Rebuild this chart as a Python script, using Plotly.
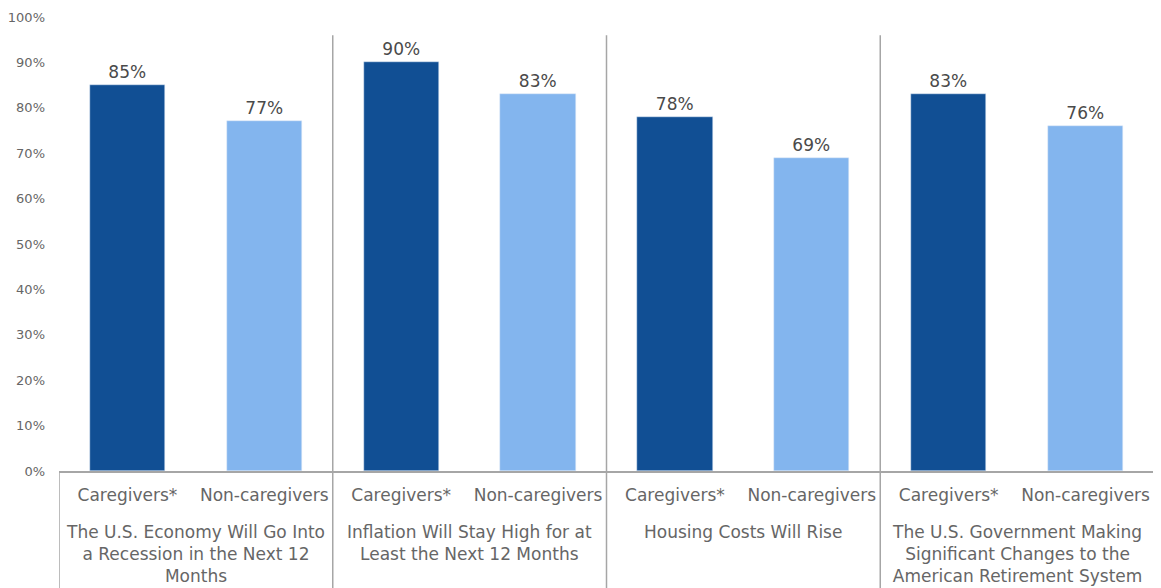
import plotly.graph_objects as go

groups = [
    "The U.S. Economy Will Go Into<br>a Recession in the Next 12<br>Months",
    "Inflation Will Stay High for at<br>Least the Next 12 Months",
    "Housing Costs Will Rise",
    "The U.S. Government Making<br>Significant Changes to the<br>American Retirement System",
]
series_names = ["Caregivers*", "Non-caregivers"]
caregivers = [85, 90, 78, 83]
non_caregivers = [77, 83, 69, 76]
y_ticks = [0, 10, 20, 30, 40, 50, 60, 70, 80, 90, 100]

colors = ["#114F94", "#83B5EE"]
FONT = "DejaVu Sans"
GRAY = "#666666"
LINE = "#A6A6A6"

n = len(groups)
x_care = [2 * i + 0.5 for i in range(n)]
x_non = [2 * i + 1.5 for i in range(n)]

fig = go.Figure()
for xs, vals, name, c in [(x_care, caregivers, series_names[0], colors[0]),
                          (x_non, non_caregivers, series_names[1], colors[1])]:
    fig.add_trace(go.Bar(
        x=xs, y=vals, name=name, width=0.55, marker_color=c,
        text=[f"{v}%" for v in vals], textposition="outside",
        textfont=dict(family=FONT, size=17, color="#4a4a4a"),
        cliponaxis=False,
    ))

tickvals = []
ticktext = []
for i in range(n):
    tickvals += [x_care[i], x_non[i]]
    ticktext += series_names

# the page body has an 8px default margin, so margins are offset by 8px
fig.update_layout(
    width=1161, height=588,
    margin=dict(l=51, r=15, t=9, b=125),
    plot_bgcolor="white", paper_bgcolor="white",
    showlegend=False, bargap=0,
    font=dict(family=FONT, color=GRAY),
    xaxis=dict(range=[0, 2 * n], tickvals=tickvals, ticktext=ticktext,
               tickfont=dict(family=FONT, size=17, color=GRAY),
               showgrid=False, zeroline=False, showline=True, linecolor=LINE,
               linewidth=1.5, ticks="", ticklabelstandoff=8, automargin=False),
    yaxis=dict(range=[0, 100], tickvals=y_ticks,
               ticktext=[f"{v}%" for v in y_ticks],
               tickfont=dict(family=FONT, size=13, color=GRAY),
               showgrid=False, zeroline=False, showline=False, ticks="",
               ticklabelstandoff=13, automargin=False),
)

# separators between groups and outer box of label area
for k in range(1, n):
    fig.add_shape(type="line", xref="x", yref="paper", x0=2 * k, x1=2 * k,
                  y0=0.96, y1=-0.26, line=dict(color=LINE, width=1.5))
for xb in [0, 2 * n]:
    fig.add_shape(type="line", xref="x", yref="paper", x0=xb, x1=xb,
                  y0=0, y1=-0.26, line=dict(color=LINE, width=1.5))

for i, g in enumerate(groups):
    fig.add_annotation(x=2 * i + 1, xref="x", y=-0.108, yref="paper",
                       text=g, showarrow=False, yanchor="top", align="center",
                       font=dict(family=FONT, size=17, color=GRAY))

fig.write_html("out.html")
